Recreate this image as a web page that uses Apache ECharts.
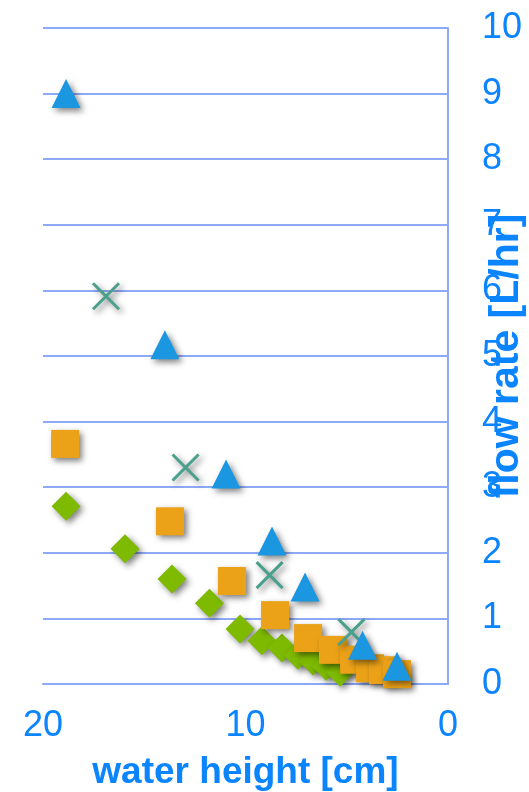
<!DOCTYPE html>
<html>
<head>
<meta charset="utf-8">
<script src="https://cdn.jsdelivr.net/npm/echarts@6/dist/echarts.min.js"></script>
<style>
html,body{margin:0;padding:0;background:#fff;}
#chart{width:529px;height:792px;}
</style>
</head>
<body>
<div id="chart"></div>
<script>
// water height [cm] / flow rate [L/hr]
const diamondX = [18.86, 15.95, 13.63, 11.78, 10.27, 9.19, 8.2, 7.41, 6.67, 6.02, 5.33];
const diamondY = [2.71, 2.06, 1.6, 1.23, 0.84, 0.66, 0.55, 0.44, 0.35, 0.27, 0.18];
const squareX = [18.91, 13.73, 10.67, 8.54, 6.91, 5.68, 4.64, 3.85, 3.21, 2.52];
const squareY = [3.66, 2.48, 1.57, 1.05, 0.70, 0.52, 0.37, 0.24, 0.21, 0.15];
const crossX = [16.89, 12.96, 8.81, 4.77];
const crossY = [5.91, 3.30, 1.66, 0.79];
const triX = [18.86, 13.98, 10.96, 8.69, 7.06, 4.22, 2.52];
const triY = [9.0, 5.17, 3.2, 2.18, 1.48, 0.59, 0.27];
const xTicks = [0, 10, 20];
const yTicks = [0, 1, 2, 3, 4, 5, 6, 7, 8, 9, 10];

const zip = (xs, ys) => xs.map((x, i) => [x, ys[i]]);
const textColor = '#0A84FF';
const lineColor = '#8DA9F7';
const font = 'Liberation Sans, Arial, sans-serif';
const shadow = {opacity: 1, shadowBlur: 6, shadowColor: 'rgba(0,0,0,0.5)', shadowOffsetX: 3, shadowOffsetY: 3};

const chart = echarts.init(document.getElementById('chart'));
chart.setOption({
  animation: false,
  grid: {left: 43, right: 81, top: 28, bottom: 108, containLabel: false, outerBoundsMode: 'none'},
  xAxis: {
    type: 'value', inverse: true, min: xTicks[0], max: xTicks[xTicks.length - 1], interval: 10,
    name: 'water height [cm]', nameLocation: 'middle', nameGap: 70, nameMoveOverlap: false,
    nameTextStyle: {color: textColor, fontSize: 37, fontWeight: 'bold', fontFamily: font},
    axisLine: {show: true, lineStyle: {color: lineColor, width: 2}},
    axisTick: {show: false},
    splitLine: {show: false},
    axisLabel: {color: textColor, fontSize: 36, fontFamily: font, margin: 24}
  },
  yAxis: {
    type: 'value', position: 'right', min: yTicks[0], max: yTicks[yTicks.length - 1], interval: 1,
    name: 'flow rate [L/hr]', nameLocation: 'middle', nameGap: 38, nameMoveOverlap: false,
    nameTextStyle: {color: textColor, fontSize: 41, fontWeight: 'bold', fontFamily: font},
    axisLine: {show: true, lineStyle: {color: lineColor, width: 2}},
    axisTick: {show: false},
    splitLine: {show: true, lineStyle: {color: lineColor, width: 2}},
    axisLabel: {color: textColor, fontSize: 36, fontFamily: font, margin: 34}
  },
  series: [
    {type: 'scatter', data: zip(diamondX, diamondY), symbol: 'diamond', symbolSize: 29,
     itemStyle: Object.assign({color: '#7EBA00'}, shadow)},
    {type: 'scatter', data: zip(squareX, squareY), symbol: 'rect', symbolSize: 28,
     itemStyle: Object.assign({color: '#ECA218'}, shadow)},
    {type: 'scatter', data: zip(crossX, crossY), symbol: 'path://M0,0L10,10M10,0L0,10', symbolSize: 26,
     itemStyle: Object.assign({color: 'rgba(0,0,0,0)', borderColor: '#4AA08C', borderWidth: 3}, shadow)},
    {type: 'scatter', data: zip(triX, triY), symbol: 'triangle', symbolSize: 29,
     itemStyle: Object.assign({color: '#1B96E0'}, shadow)}
  ]
});
</script>
</body>
</html>
